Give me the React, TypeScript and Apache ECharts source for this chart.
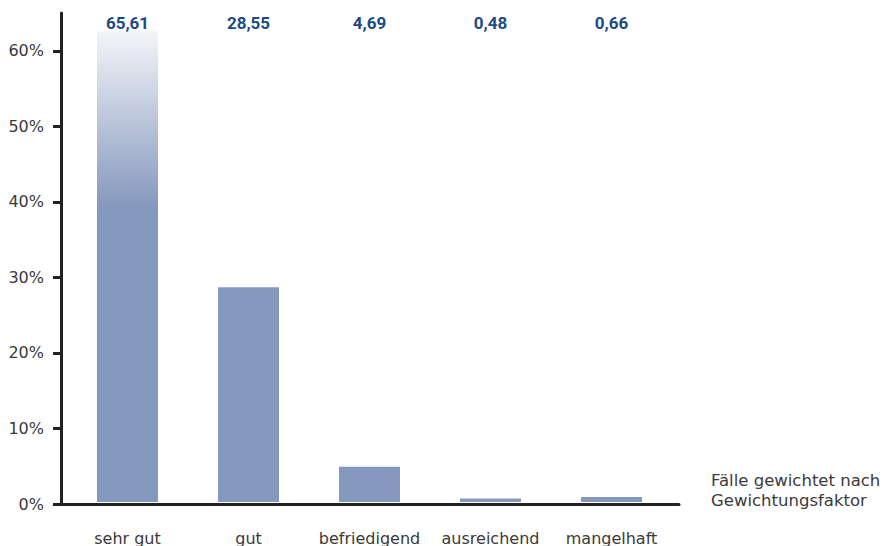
import React, { useEffect, useRef } from "react";
import * as echarts from "echarts";

// Grades and their weighted share in percent
const categories: string[] = ["sehr gut", "gut", "befriedigend", "ausreichend", "mangelhaft"];
const shares: number[] = [65.61, 28.55, 4.69, 0.48, 0.66];
const yTicks: number[] = [0, 10, 20, 30, 40, 50, 60];
const noteLines: string[] = ["Fälle gewichtet nach", "Gewichtungsfaktor"];

const FONT = "DejaVu Sans";
const BAR = "#8497bd";
const AXIS = "#222222";
const TEXT = "#3a3a3a";
const VALUE = "#1d4a85";

const fmt = (v: number) => v.toFixed(2).replace(".", ",");

export default function App() {
  const ref = useRef<HTMLDivElement>(null);

  useEffect(() => {
    if (!ref.current) return;
    const chart = echarts.init(ref.current, undefined, { renderer: "svg" });

    // the tallest bar runs past the axis top and fades out towards it
    const fade = new echarts.graphic.LinearGradient(0, 0, 0, 1, [
      { offset: 0, color: "#ffffff" },
      { offset: 0.033, color: "#ffffff" },
      { offset: 0.04, color: "#f3f4f8" },
      { offset: 0.4, color: BAR },
      { offset: 1, color: BAR },
    ]);

    const data = shares.map((v, i) =>
      i === 0 ? { value: v, itemStyle: { color: fade } } : { value: v }
    );

    chart.setOption({
      animation: false,
      textStyle: { fontFamily: FONT },
      grid: [
        { left: 67, right: 216, top: 13, bottom: 42 },
        { left: 61, right: 209, top: 13, bottom: 42 },
      ],
      xAxis: [
        {
          type: "category",
          gridIndex: 0,
          data: categories,
          axisLine: { show: false },
          axisTick: { show: false },
          axisLabel: {
            color: TEXT,
            fontSize: 16,
            fontFamily: FONT,
            margin: 36,
            verticalAlign: "middle",
            interval: 0,
          },
        },
        {
          type: "category",
          gridIndex: 0,
          position: "top",
          z: 5,
          data: categories,
          axisLine: { show: false },
          axisTick: { show: false },
          axisLabel: {
            color: VALUE,
            fontSize: 17,
            fontWeight: "bold",
            fontFamily: "Roboto",
            margin: -10,
            verticalAlign: "middle",
            interval: 0,
            formatter: (_v: string, idx: number) => fmt(shares[idx]),
          },
        },
        {
          type: "value",
          gridIndex: 1,
          min: 0,
          max: 1,
          axisLine: { show: true, lineStyle: { color: AXIS, width: 3 } },
          axisTick: { show: false },
          axisLabel: { show: false },
          splitLine: { show: false },
        },
      ],
      yAxis: [
        {
          type: "value",
          gridIndex: 0,
          min: 0,
          max: 65,
          show: false,
        },
        {
          type: "value",
          gridIndex: 1,
          min: 0,
          max: 65,
          interval: 10,
          axisLine: { show: true, lineStyle: { color: AXIS, width: 3 } },
          axisTick: {
            show: true,
            length: 8,
            customValues: yTicks,
            lineStyle: { color: AXIS, width: 3 },
          },
          axisLabel: {
            color: TEXT,
            fontSize: 16,
            fontFamily: FONT,
            margin: 17,
            customValues: yTicks,
            formatter: "{value}%",
          },
          splitLine: { show: false },
        },
      ],
      series: [
        {
          type: "bar",
          xAxisIndex: 0,
          yAxisIndex: 0,
          barWidth: 61,
          clip: true,
          itemStyle: { color: BAR },
          data,
        },
      ],
      graphic: [
        {
          type: "text",
          left: 711,
          top: 470,
          style: {
            text: noteLines.join("\n"),
            fill: TEXT,
            font: `16.5px "${FONT}"`,
            lineHeight: 20,
          },
        },
      ],
    });

    return () => chart.dispose();
  }, []);

  return (
    <div
      ref={ref}
      style={{ position: "fixed", left: 0, top: 0, width: 888, height: 546, background: "#ffffff" }}
    />
  );
}
